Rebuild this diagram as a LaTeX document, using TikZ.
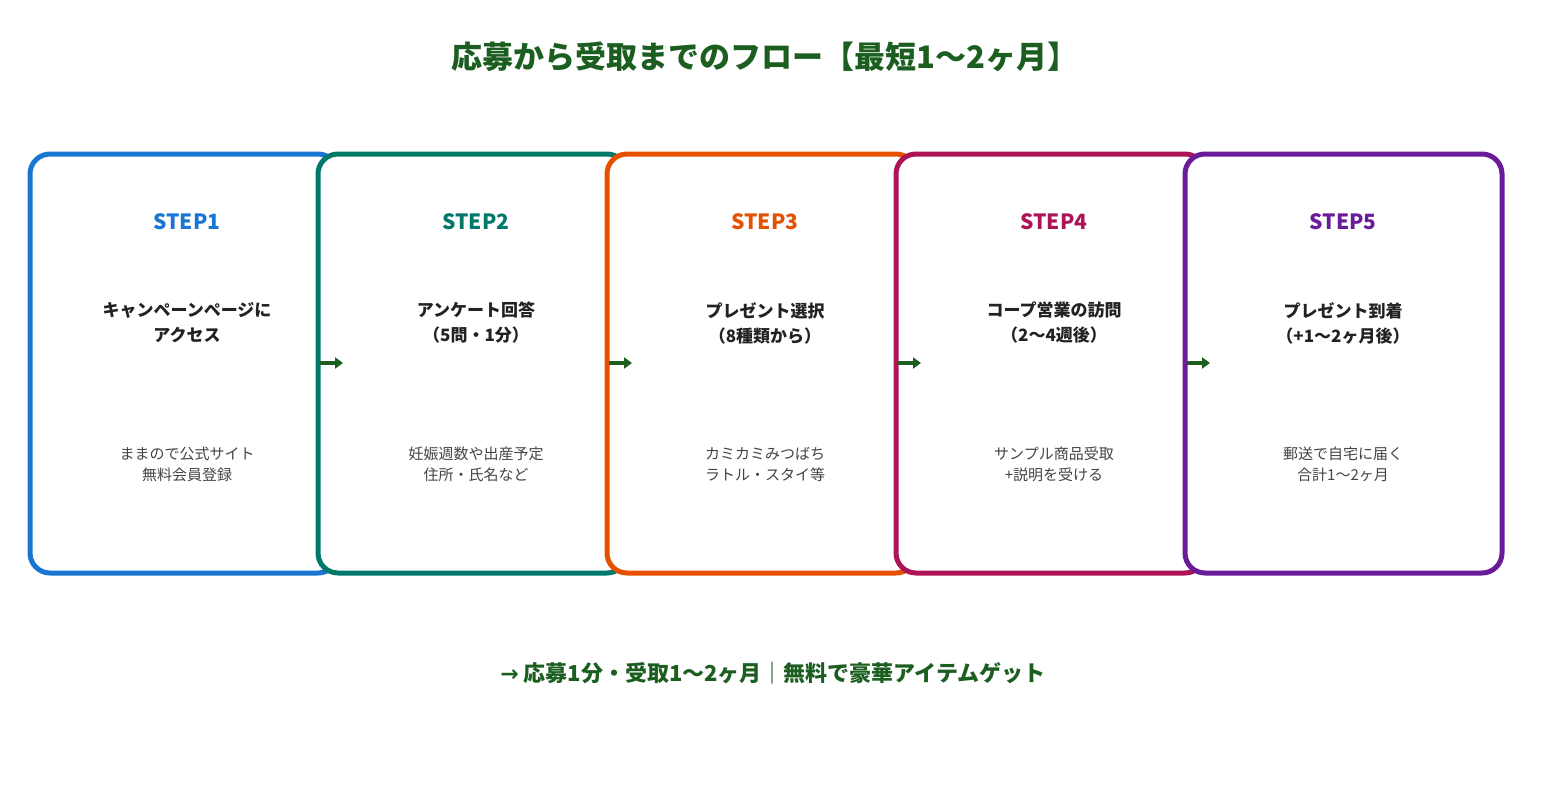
\documentclass[tikz,border=0pt]{standalone}
\usepackage{fontspec}
\usetikzlibrary{arrows.meta}
\setmainfont{Noto Sans CJK JP}
\newfontfamily\djv{DejaVu Sans}
\definecolor{c1}{HTML}{1976D2}
\definecolor{c2}{HTML}{00796B}
\definecolor{c3}{HTML}{E65100}
\definecolor{c4}{HTML}{AD1457}
\definecolor{c5}{HTML}{6A1B9A}
\definecolor{dg}{HTML}{1B5E20}
\definecolor{tx}{HTML}{222222}
\definecolor{sx}{HTML}{444444}
\begin{document}
\begin{tikzpicture}[x=1pt,y=-1pt,
  card/.style={draw=#1,line width=5pt,rounded corners=20pt,fill=white},
  steplab/.style={font=\fontsize{21}{25}\selectfont\bfseries,text=#1},
  mainlab/.style={font=\fontsize{17}{25}\selectfont\bfseries,text=tx,align=center},
  sublab/.style={font=\fontsize{15}{21}\selectfont,text=sx,align=center},
  arr/.style={draw=dg,line width=4pt,-{Triangle[length=8pt,width=11pt]}}]
\useasboundingbox (0,0) rectangle (1547,806);
\node[font=\fontsize{31}{36}\selectfont\bfseries,text=dg] (title) at (765,57) {応募から受取までのフロー【最短1〜2ヶ月】};
\foreach \i/\x/\c/\w in {1/30/c1/308,2/318/c2/309,3/607/c3/309,4/896/c4/309,5/1185/c5/317}{
  \draw[card=\c] (\x,154) rectangle ++(\w,419);
}
\foreach \i/\x in {1/320,2/609,3/898,4/1187}{
  \coordinate (a\i) at (\x,363);
  \coordinate (b\i) at (\x+23,363);
  \draw[arr] (a\i) -- (b\i);
}
\node[steplab=c1] (s1) at (187,222) {STEP1};
\node[steplab=c2] (s2) at (476,222) {STEP2};
\node[steplab=c3] (s3) at (765,222) {STEP3};
\node[steplab=c4] (s4) at (1054,222) {STEP4};
\node[steplab=c5] (s5) at (1343,222) {STEP5};
\node[mainlab] (m1) at (187,323) {キャンペーンページに\\アクセス};
\node[mainlab] (m2) at (476,323) {アンケート回答\\（5問・1分）};
\node[mainlab] (m3) at (765,323) {プレゼント選択\\（8種類から）};
\node[mainlab] (m4) at (1054,323) {コープ営業の訪問\\（2〜4週後）};
\node[mainlab] (m5) at (1343,323) {プレゼント到着\\（+1〜2ヶ月後）};
\node[sublab] (t1) at (187,464) {ままので公式サイト\\無料会員登録};
\node[sublab] (t2) at (476,464) {妊娠週数や出産予定\\住所・氏名など};
\node[sublab] (t3) at (765,464) {カミカミみつばち\\ラトル・スタイ等};
\node[sublab] (t4) at (1054,464) {サンプル商品受取\\+説明を受ける};
\node[sublab] (t5) at (1343,464) {郵送で自宅に届く\\合計1〜2ヶ月};
\node[font=\fontsize{22}{26}\selectfont\bfseries,text=dg] (foot) at (773,673) {{\djv →} 応募1分・受取1〜2ヶ月｜無料で豪華アイテムゲット};
\end{tikzpicture}
\end{document}
